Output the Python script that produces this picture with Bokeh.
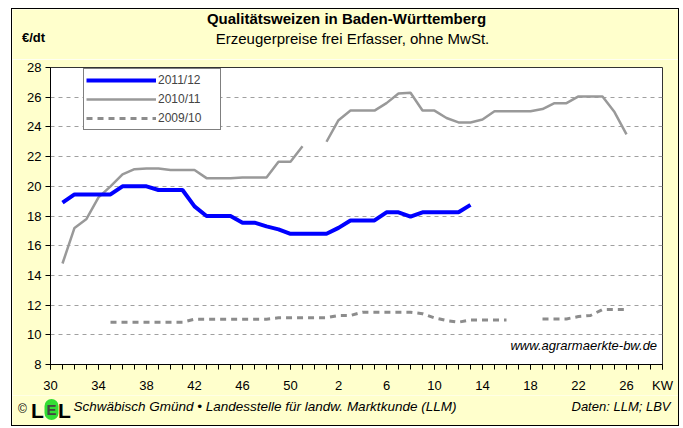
import numpy as np
from bokeh.plotting import figure
from bokeh.layouts import column
from bokeh.models import Range1d, FixedTicker, Label, Legend, LegendItem
from bokeh.embed import file_html
from bokeh.resources import INLINE

# ---- data ---------------------------------------------------------------
WEEKS = list(range(30, 53)) + list(range(1, 30))          # KW categories (52)
X_TICK_WEEKS = [30, 34, 38, 42, 46, 50, 2, 6, 10, 14, 18, 22, 26]
Y_TICKS = list(range(8, 29, 2))

SERIES_NAMES = ["2011/12", "2010/11", "2009/10"]

# 2011/12: KW 31 .. KW 13
START_2011_12 = 31
P_2011_12 = [18.9, 19.45, 19.45, 19.45, 19.45, 20.0, 20.0, 20.0, 19.75, 19.75, 19.75,
             18.65, 18.0, 18.0, 18.0, 17.55, 17.55, 17.3, 17.1, 16.8, 16.8, 16.8,
             16.8, 17.2, 17.7, 17.7, 17.7, 18.25, 18.25, 17.95, 18.25, 18.25, 18.25, 18.25, 18.75]

# 2010/11: KW 31 .. KW 26
START_2010_11 = 31
P_2010_11 = [14.8, 17.2, 17.8, 19.25, 20.0, 20.8, 21.15, 21.2, 21.2, 21.1, 21.1,
             21.1, 20.55, 20.55, 20.55, 20.6, 20.6, 20.6, 21.65, 21.65, 22.7, None,
             23.0, 24.45, 25.1, 25.1, 25.1, 25.6, 26.25, 26.3, 25.1, 25.1, 24.6, 24.3, 24.3,
             24.5, 25.05, 25.05, 25.05, 25.05, 25.2, 25.6, 25.6, 26.05, 26.05, 26.05, 25.0, 23.5]

# 2009/10: KW 35 .. KW 26
START_2009_10 = 35
P_2009_10 = [10.85, 10.85, 10.85, 10.85, 10.85, 10.85, 10.85,
             11.05, 11.05, 11.05, 11.05, 11.05, 11.05, 11.05,
             11.15, 11.15, 11.15, 11.15,
             11.15, 11.3, 11.3, 11.52, 11.52, 11.52, 11.52, 11.52, 11.42, 11.14, 10.96, 10.85,
             11.0, 11.0, 11.0, 11.0, None, None, 11.07, 11.07, 11.07, 11.23, 11.3, 11.7, 11.7, 11.7]

TITLE = "Qualitätsweizen in Baden-Württemberg"
SUBTITLE = "Erzeugerpreise frei Erfasser, ohne MwSt."
UNIT = "€/dt"
X_UNIT = "KW"
WEB = "www.agrarmaerkte-bw.de"
FOOTER = "Schwäbisch Gmünd  •  Landesstelle für landw. Marktkunde (LLM)"
SOURCE = "Daten: LLM; LBV"


def xy(start_week, values):
    i0 = WEEKS.index(start_week)
    x = list(range(i0, i0 + len(values)))
    y = np.array(values, dtype=float)
    return x, y


FONT = "Liberation Sans"
YELLOW = "#FFFFCC"
W = 666


def text_panel(height, y_top):
    f = figure(width=W, height=height, output_backend="svg", toolbar_location=None,
               title=None, min_border=0, x_axis_location=None, y_axis_location=None,
               frame_align=False,
               x_range=Range1d(12, 12 + W), y_range=Range1d(y_top + height, y_top))
    f.grid.visible = False
    f.outline_line_color = None
    f.background_fill_color = YELLOW
    f.border_fill_color = YELLOW
    return f


def lab(fig, x, y, text, size, align="center", style="normal", color="#000000", **kw):
    fig.add_layout(Label(x=x, y=y, text=text, text_font=FONT, text_font_size=size,
                         text_align=align, text_baseline="middle", text_font_style=style,
                         text_color=color, **kw))


# ---- header -------------------------------------------------------------
head = text_panel(50, 9)
lab(head, 346, 18, TITLE, "15px", style="bold")
lab(head, 352, 38, SUBTITLE, "15px")
lab(head, 33, 37, UNIT, "13px", style="bold")

# ---- main chart ---------------------------------------------------------
p = figure(width=W, height=336, output_backend="svg", toolbar_location=None,
           title=None, frame_align=False,
           x_range=Range1d(0, len(WEEKS) - 1), y_range=Range1d(Y_TICKS[0], Y_TICKS[-1]),
           min_border_left=38, min_border_right=16, min_border_top=8, min_border_bottom=31)
p.border_fill_color = YELLOW
p.background_fill_color = "#FFFFFF"
p.outline_line_color = "#333333"
p.outline_line_width = 1

p.yaxis.ticker = FixedTicker(ticks=Y_TICKS)
p.yaxis.major_tick_out = 5
p.yaxis.major_tick_in = 0
p.yaxis.minor_tick_out = 0
p.yaxis.axis_line_color = "#000000"
p.yaxis.major_tick_line_color = "#000000"
p.yaxis.major_label_text_font = FONT
p.yaxis.major_label_text_font_size = "13px"
p.yaxis.major_label_text_color = "#000000"
p.yaxis.major_label_standoff = 4

tick_idx = [WEEKS.index(w) for w in X_TICK_WEEKS]
kw_pos = len(WEEKS) - 1
p.xaxis.ticker = FixedTicker(ticks=tick_idx + [kw_pos],
                             minor_ticks=list(range(len(WEEKS))))
overrides = {i: str(w) for i, w in zip(tick_idx, X_TICK_WEEKS)}
overrides[kw_pos] = X_UNIT
p.xaxis.major_label_overrides = overrides
p.xaxis.major_tick_out = 5
p.xaxis.major_tick_in = 0
p.xaxis.minor_tick_out = 5
p.xaxis.minor_tick_in = 0
p.xaxis.axis_line_color = "#000000"
p.xaxis.major_tick_line_color = "#000000"
p.xaxis.minor_tick_line_color = "#000000"
p.xaxis.major_label_text_font = FONT
p.xaxis.major_label_text_font_size = "13px"
p.xaxis.major_label_text_color = "#000000"
p.xaxis.major_label_standoff = 8

p.xgrid.visible = False
p.ygrid.grid_line_color = "#A0A0A0"
p.ygrid.grid_line_dash = "4 4"
p.ygrid.grid_line_width = 1

x3, y3 = xy(START_2009_10, P_2009_10)
r3 = p.line(x3, y3, line_color="#8C8C8C", line_width=3, line_dash="6 5")
x2, y2 = xy(START_2010_11, P_2010_11)
r2 = p.line(x2, y2, line_color="#999999", line_width=2.5)
x1, y1 = xy(START_2011_12, P_2011_12)
r1 = p.line(x1, y1, line_color="#0000FF", line_width=4)

legend = Legend(items=[LegendItem(label=SERIES_NAMES[0], renderers=[r1]),
                       LegendItem(label=SERIES_NAMES[1], renderers=[r2]),
                       LegendItem(label=SERIES_NAMES[2], renderers=[r3])],
                location=(33, 234), margin=0, padding=2, spacing=1,
                label_height=18, glyph_height=18, glyph_width=70, label_standoff=2,
                label_width=60,
                label_text_font=FONT, label_text_font_size="12px",
                border_line_color="#000000", border_line_width=1,
                background_fill_color="#FFFFFF", background_fill_alpha=1)
p.add_layout(legend, "center")

lab(p, 50.55, 9.28, WEB, "13px", align="right", style="italic")

# ---- footer -------------------------------------------------------------
foot = text_panel(30, 395)
lab(foot, 22, 408, "©", "12px")
lab(foot, 37, 410, "L", "21px", style="bold")
foot.add_layout(Label(x=51, y=409, text="E", text_font=FONT, text_font_size="15px",
                      text_font_style="bold", text_align="center", text_baseline="middle",
                      background_fill_color="#33DD33", border_radius=9, padding=2))
lab(foot, 64, 410, "L", "21px", style="bold")
lab(foot, 73, 406, FOOTER, "13.5px", align="left", style="italic")
lab(foot, 670, 406, SOURCE, "13px", align="right", style="italic")

layout = column(head, p, foot, spacing=0, margin=(8, 0, 0, 11),
                styles={"border": "1px solid #000000"})

open("out.html", "w").write(file_html(layout, INLINE))
